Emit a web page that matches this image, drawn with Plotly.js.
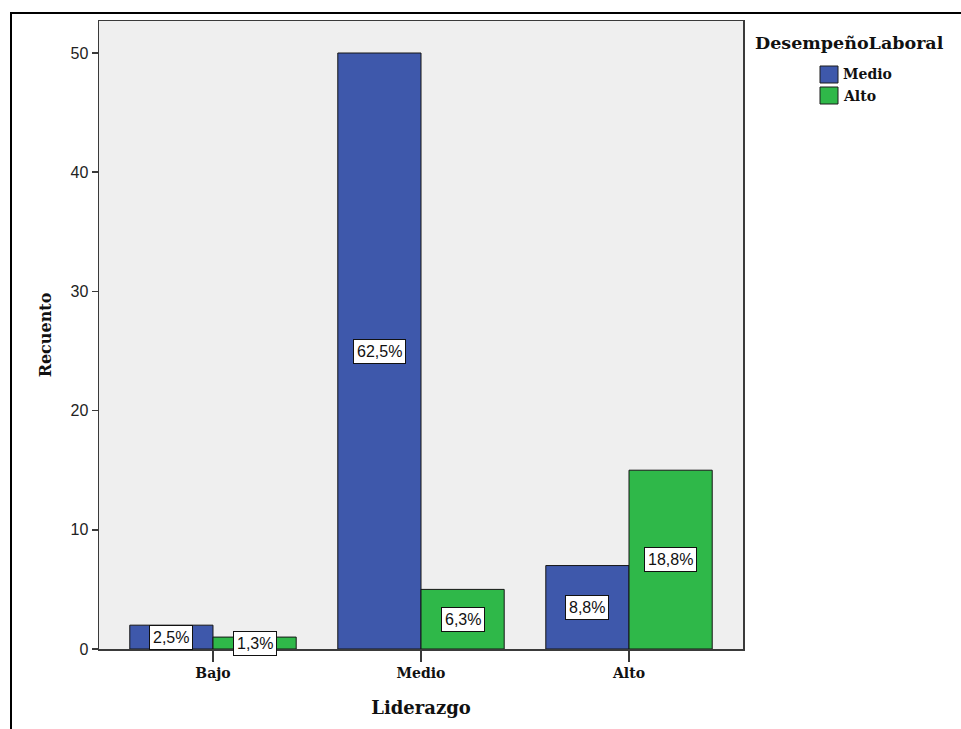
<!DOCTYPE html>
<html>
<head>
<meta charset="utf-8">
<script src="https://cdn.plot.ly/plotly-3.0.1.min.js"></script>
<style>
  html, body { margin: 0; padding: 0; background: #ffffff; }
  #wrap { position: relative; width: 961px; height: 729px; overflow: hidden; }
  #chart { position: absolute; left: 0; top: 0; width: 961px; height: 729px; }
  #frameTop { position: absolute; left: 10px; top: 12px; width: 951px; height: 2px; background: #000; }
  #frameLeft { position: absolute; left: 10px; top: 12px; width: 2px; height: 717px; background: #000; }
</style>
</head>
<body>
<div id="wrap">
  <div id="chart"></div>
  <div id="frameTop"></div>
  <div id="frameLeft"></div>
</div>
<script>
// Liderazgo x DesempeñoLaboral — counts and percentage of total
const categories = ['Bajo', 'Medio', 'Alto'];
const seriesNames = ['Medio', 'Alto'];
const countsMedio = [2, 50, 7];
const countsAlto = [1, 5, 15];
const pctMedio = ['2,5%', '62,5%', '8,8%'];
const pctAlto = ['1,3%', '6,3%', '18,8%'];
const yTicks = [0, 10, 20, 30, 40, 50];

const legendTitle = 'DesempeñoLaboral';
const xTitle = 'Liderazgo';
const yTitle = 'Recuento';

const colors = ['#3e58ab', '#2fb849'];
const serif = '"DejaVu Serif", "Liberation Serif", serif';
const sans = '"Liberation Sans", Arial, sans-serif';

// plot area geometry in pixels
const W = 961, H = 729;
const L = 99, R = 743, T = 21, B = 649;
const px2x = p => (p - L) / (R - L);
const px2y = p => (B - p) / (B - T);

const seriesCounts = [countsMedio, countsAlto];
const seriesPct = [pctMedio, pctAlto];

const traces = seriesNames.map((name, s) => ({
  type: 'bar',
  name: name,
  x: categories,
  y: seriesCounts[s],
  marker: { color: colors[s], line: { color: '#151515', width: 1 } },
  hoverinfo: 'skip',
  showlegend: false
}));

// percentage boxes at the middle of every bar
const annotations = [];
seriesCounts.forEach((vals, s) => {
  vals.forEach((v, i) => {
    annotations.push({
      x: i + (s === 0 ? -0.2 : 0.2),
      y: v / 2,
      xref: 'x', yref: 'y',
      text: seriesPct[s][i],
      showarrow: false,
      font: { family: sans, size: 16, color: '#111' },
      bgcolor: '#ffffff',
      bordercolor: '#111111',
      borderwidth: 1,
      borderpad: 3
    });
  });
});

// legend drawn beside the plot
annotations.push({
  x: px2x(753), y: px2y(43), xref: 'paper', yref: 'paper',
  text: legendTitle, showarrow: false,
  xanchor: 'left', yanchor: 'middle',
  font: { family: serif, size: 17.5, color: '#111', weight: 'bold' }
});
const shapes = [];
seriesNames.forEach((name, s) => {
  const cy = 74.5 + s * 21;
  shapes.push({
    type: 'rect', xref: 'paper', yref: 'paper',
    x0: px2x(820), x1: px2x(838), y0: px2y(cy - 8.5), y1: px2y(cy + 8.5),
    fillcolor: colors[s], line: { color: '#1c1c1c', width: 1 }
  });
  annotations.push({
    x: px2x(841), y: px2y(cy), xref: 'paper', yref: 'paper',
    text: name, showarrow: false,
    xanchor: 'left', yanchor: 'middle',
    font: { family: serif, size: 14, color: '#111', weight: 'bold' }
  });
});

const layout = {
  width: W, height: H,
  margin: { l: L, r: W - R, t: T, b: H - B, pad: 0 },
  paper_bgcolor: '#ffffff',
  plot_bgcolor: '#efefef',
  barmode: 'group',
  bargap: 0.2,
  bargroupgap: 0,
  showlegend: false,
  xaxis: {
    type: 'category',
    categoryorder: 'array',
    categoryarray: categories,
    range: [-0.548, 2.548],
    showgrid: false, zeroline: false,
    showline: true, mirror: true, linecolor: '#3a3a3a', linewidth: 1.5,
    ticks: 'outside', ticklen: 11, tickwidth: 1.5, tickcolor: '#3a3a3a',
    tickfont: { family: serif, size: 14, color: '#111', weight: 'bold' },
    title: { text: xTitle, standoff: 21,
             font: { family: serif, size: 18, color: '#111', weight: 'bold' } },
    fixedrange: true
  },
  yaxis: {
    range: [0, (B - T) / ((B - 53) / 50)],
    tickvals: yTicks,
    showgrid: false, zeroline: false,
    showline: true, mirror: true, linecolor: '#3a3a3a', linewidth: 1.5,
    ticks: 'outside', ticklen: 6, tickwidth: 1.5, tickcolor: '#3a3a3a',
    tickfont: { family: sans, size: 16, color: '#222' },
    title: { text: yTitle, standoff: 15,
             font: { family: serif, size: 16, color: '#111', weight: 'bold' } },
    fixedrange: true
  },
  annotations: annotations,
  shapes: shapes
};

Plotly.newPlot('chart', traces, layout, { displayModeBar: false, staticPlot: true });
</script>
</body>
</html>
